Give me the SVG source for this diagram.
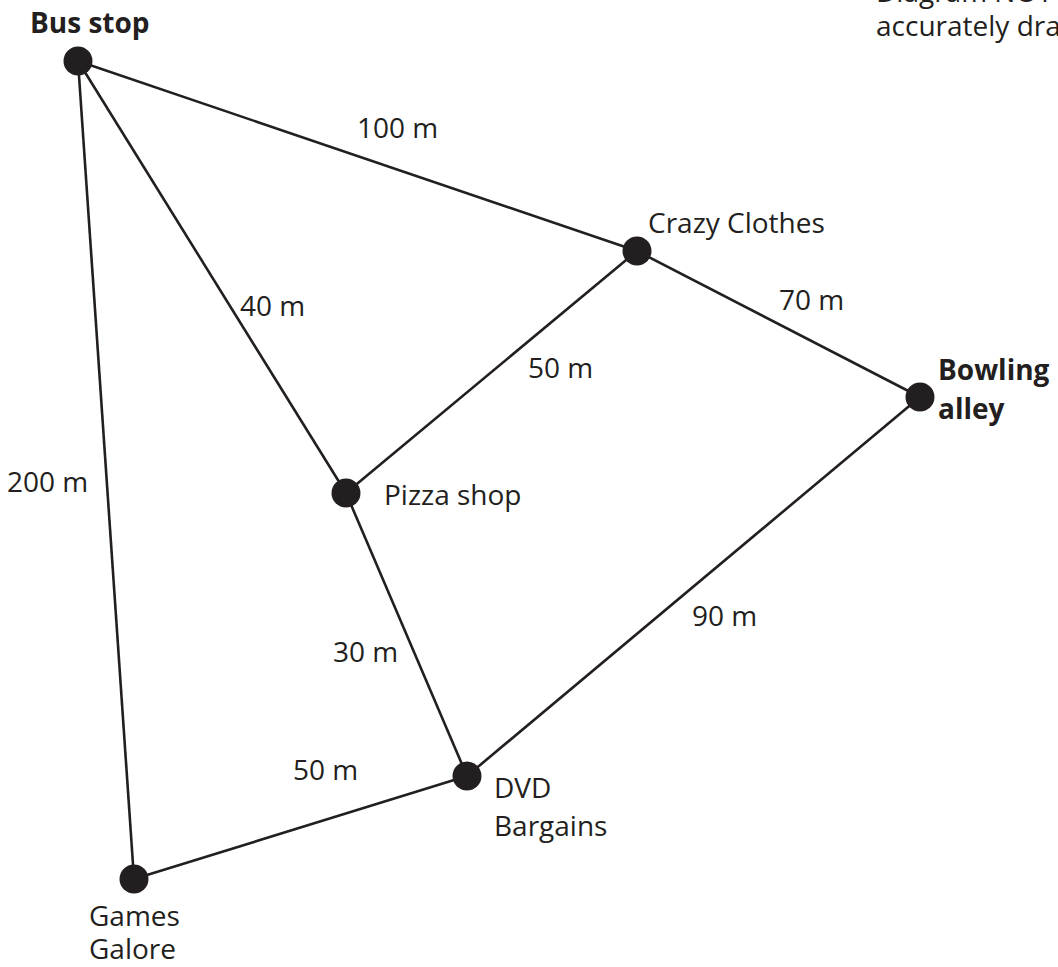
<svg xmlns="http://www.w3.org/2000/svg" width="1058" height="967" viewBox="0 0 1058 967">
<style>
.e{stroke:#231f20;stroke-width:2.6;fill:none}
.n{fill:#231f20}
text{font-family:"Open Sans","Noto Sans",sans-serif;font-size:28px;fill:#231f20}
.b{font-weight:bold}
</style>
<rect width="1058" height="967" fill="#fff"/>
<g id="connectors">
<line class="e" x1="78" y1="61" x2="637" y2="251"/>
<line class="e" x1="78" y1="61" x2="346" y2="493"/>
<line class="e" x1="78" y1="61" x2="134" y2="879"/>
<line class="e" x1="637" y1="251" x2="920" y2="397"/>
<line class="e" x1="637" y1="251" x2="346" y2="493"/>
<line class="e" x1="920" y1="397" x2="467" y2="776"/>
<line class="e" x1="346" y1="493" x2="467" y2="776"/>
<line class="e" x1="467" y1="776" x2="134" y2="879"/>
<text x="357" y="138">100 m</text>
<text x="240" y="316">40 m</text>
<text x="7" y="492">200 m</text>
<text x="779" y="310">70 m</text>
<text x="528" y="378">50 m</text>
<text x="692" y="626">90 m</text>
<text x="333" y="662">30 m</text>
<text x="293" y="780">50 m</text>
</g>
<g id="note">
<text x="876" y="2">Diagram NOT</text>
<text x="876" y="36">accurately drawn</text>
</g>
<g id="bus-stop">
<circle class="n" cx="78" cy="61" r="14.5"/>
<text class="b" x="30" y="33">Bus stop</text>
</g>
<g id="crazy-clothes">
<circle class="n" cx="637" cy="251" r="14.5"/>
<text x="648" y="233">Crazy Clothes</text>
</g>
<g id="bowling-alley">
<circle class="n" cx="920" cy="397" r="14.5"/>
<text class="b" x="938" y="380">Bowling</text>
<text class="b" x="938" y="419">alley</text>
</g>
<g id="pizza-shop">
<circle class="n" cx="346" cy="493" r="14.5"/>
<text x="384" y="505">Pizza shop</text>
</g>
<g id="dvd-bargains">
<circle class="n" cx="467" cy="776" r="14.5"/>
<text x="494" y="798">DVD</text>
<text x="494" y="836">Bargains</text>
</g>
<g id="games-galore">
<circle class="n" cx="134" cy="879" r="14.5"/>
<text x="89" y="926">Games</text>
<text x="89" y="959">Galore</text>
</g>
</svg>
